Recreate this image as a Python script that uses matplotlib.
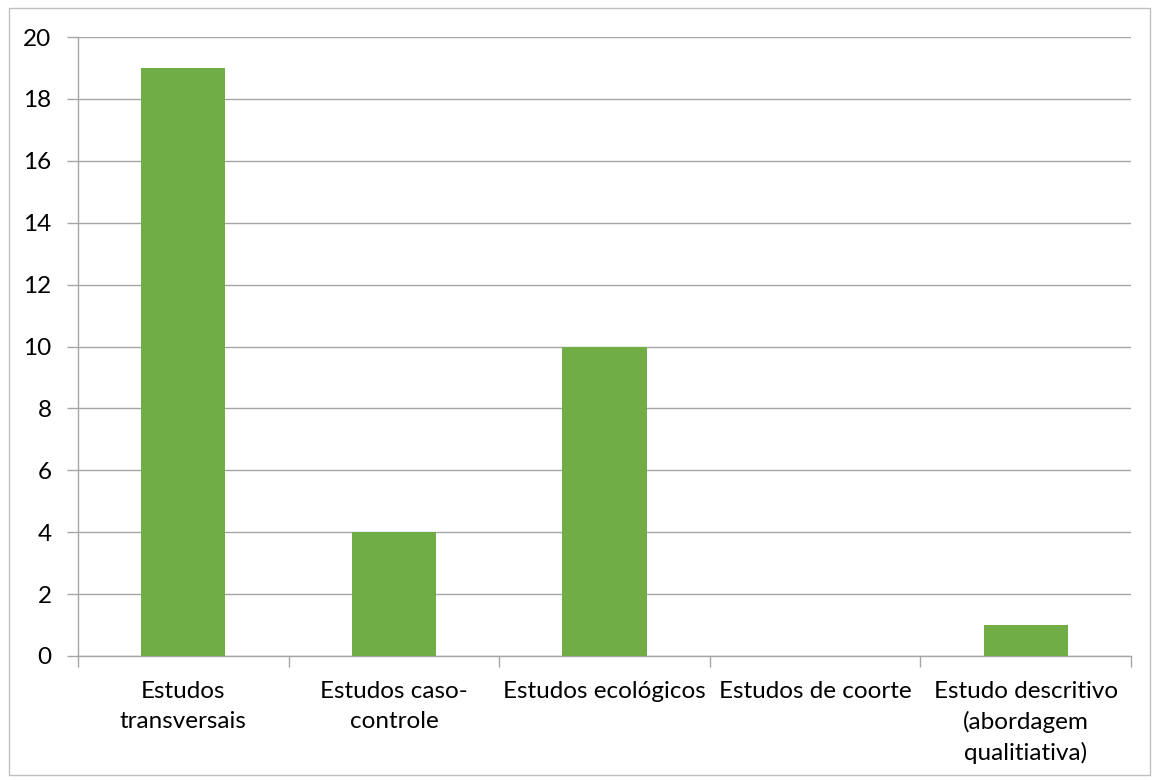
import matplotlib.pyplot as plt
from matplotlib.patches import Rectangle

# Study types and counts
categories = ['Estudos\ntransversais', 'Estudos caso-\ncontrole', 'Estudos ecológicos',
              'Estudos de coorte', 'Estudo descritivo\n(abordagem\nqualitiativa)']
counts = [19, 4, 10, 0, 1]
y_ticks = [0, 2, 4, 6, 8, 10, 12, 14, 16, 18, 20]

plt.rcParams['font.family'] = ['Lato', 'DejaVu Sans']

fig = plt.figure(figsize=(11.54, 7.82), dpi=100)
ax = fig.add_axes([78 / 1154, 1 - 656 / 782, (1131 - 78) / 1154, (656 - 37) / 782])

# outer chart border
fig.patches.append(Rectangle((9 / 1154, 1 - 775 / 782), (1150 - 9) / 1154, (775 - 8) / 782,
                             transform=fig.transFigure, fill=False, edgecolor='#BFBFBF', linewidth=1))

x = range(len(categories))
ax.bar(x, counts, width=0.4, color='#70AD47', zorder=3)

ax.set_xlim(-0.5, len(categories) - 0.5)
ax.set_ylim(0, 20)
ax.set_yticks(y_ticks)
ax.grid(axis='y', color='#A6A6A6', linewidth=1, zorder=0)

for side in ['top', 'right']:
    ax.spines[side].set_visible(False)
for side in ['left', 'bottom']:
    ax.spines[side].set_color('#A6A6A6')
    ax.spines[side].set_linewidth(1)

ax.set_xticks([i - 0.5 for i in range(len(categories) + 1)])
ax.set_xticklabels([])
ax.set_xticks(list(x), minor=True)
ax.set_xticklabels(categories, minor=True, fontsize=17.5, linespacing=1.5)
ax.tick_params(axis='x', which='major', length=8, color='#A6A6A6', width=1)
ax.tick_params(axis='x', which='minor', length=0, pad=18)
ax.tick_params(axis='y', length=8, color='#A6A6A6', width=1, labelsize=17.5, pad=11)

plt.savefig('out.png', dpi=100)
plt.close()
